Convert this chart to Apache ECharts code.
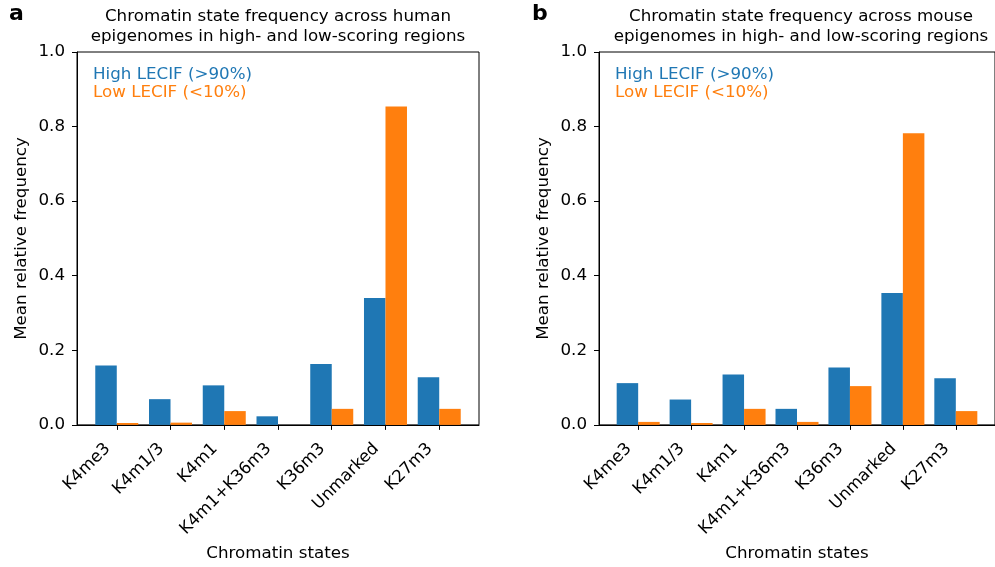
<!DOCTYPE html>
<html>
<head>
<meta charset="utf-8">
<script src="https://cdn.jsdelivr.net/npm/echarts@6/dist/echarts.min.js"></script>
<style>html,body{margin:0;padding:0;background:#fff;overflow:hidden;}#chart{width:995px;height:567px;}</style>
</head>
<body>
<div id="chart"></div>
<script>
const categories = ['K4me3', 'K4m1/3', 'K4m1', 'K4m1+K36m3', 'K36m3', 'Unmarked', 'K27m3'];
const humanHigh = [0.159, 0.069, 0.106, 0.023, 0.163, 0.340, 0.128];
const humanLow  = [0.005, 0.006, 0.037, 0.000, 0.043, 0.854, 0.043];
const mouseHigh = [0.112, 0.068, 0.135, 0.043, 0.154, 0.354, 0.125];
const mouseLow  = [0.008, 0.005, 0.043, 0.008, 0.104, 0.782, 0.037];
const titles = ['Chromatin state frequency across human\nepigenomes in high- and low-scoring regions',
                'Chromatin state frequency across mouse\nepigenomes in high- and low-scoring regions'];
const legendHigh = 'High LECIF (>90%)';
const legendLow = 'Low LECIF (<10%)';
const blue = '#1f77b4', orange = '#ff7f0e';
const FONT = 'DejaVu Sans';
const FS = 16.7;

const pos = categories.map((c, i) => i);
const toPairs = arr => arr.map((v, i) => [i, v]);

function xAxis(gi) {
  return {
    type: 'value', gridIndex: gi, min: -0.74, max: 6.74,
    name: 'Chromatin states', nameLocation: 'middle', nameGap: 117,
    nameTextStyle: {fontFamily: FONT, fontSize: FS, color: '#000'},
    splitLine: {show: false},
    axisLine: {show: true, onZero: false, lineStyle: {color: '#000', width: 1}},
    axisTick: {show: true, length: 5, lineStyle: {color: '#000'}, customValues: pos},
    axisLabel: {
      customValues: pos, rotate: 45, margin: 12, padding: [0, 13, 0, 0],
      fontFamily: FONT, fontSize: FS, color: '#000',
      formatter: v => categories[Math.round(v)]
    }
  };
}
function yAxis(gi) {
  return {
    type: 'value', gridIndex: gi, min: 0, max: 1, interval: 0.2,
    name: 'Mean relative frequency', nameLocation: 'middle', nameGap: 47,
    nameTextStyle: {fontFamily: FONT, fontSize: FS, color: '#000'},
    splitLine: {show: false},
    axisLine: {show: true, onZero: false, lineStyle: {color: '#000', width: 1}},
    axisTick: {show: true, length: 5, lineStyle: {color: '#000'}},
    axisLabel: {margin: 12, fontFamily: FONT, fontSize: FS, color: '#000',
      formatter: v => v.toFixed(1)}
  };
}
function bar(gi, data, color) {
  return {
    type: 'bar', xAxisIndex: gi, yAxisIndex: gi, data: toPairs(data),
    barWidth: 21.5, barGap: '0%', itemStyle: {color: color}, silent: true
  };
}
const tStyle = (size, weight, color) => ({fontFamily: FONT, fontSize: size, fontWeight: weight, color: color, lineHeight: 20});

const chart = echarts.init(document.getElementById('chart'), null, {renderer: 'canvas', width: 995, height: 567});
chart.setOption({
  animation: false,
  backgroundColor: '#fff',
  grid: [
    {left: 77, width: 402, top: 52, height: 376, show: true, borderColor: '#000', borderWidth: 1, containLabel: false},
    {left: 599, width: 402, top: 52, height: 376, show: true, borderColor: '#000', borderWidth: 1, containLabel: false}
  ],
  title: [
    {text: titles[0], left: 278, top: 7, padding: 0, textAlign: 'center', textStyle: tStyle(FS, 'normal', '#000')},
    {text: titles[1], left: 801, top: 7, padding: 0, textAlign: 'center', textStyle: tStyle(FS, 'normal', '#000')},
    {text: 'a', left: 9, top: 4, padding: 0, textStyle: tStyle(22, 'bold', '#000')},
    {text: 'b', left: 532, top: 4, padding: 0, textStyle: tStyle(22, 'bold', '#000')},
    {text: legendHigh, left: 93, top: 65, padding: 0, textStyle: tStyle(FS, 'normal', blue)},
    {text: legendLow, left: 93, top: 83, padding: 0, textStyle: tStyle(FS, 'normal', orange)},
    {text: legendHigh, left: 615, top: 65, padding: 0, textStyle: tStyle(FS, 'normal', blue)},
    {text: legendLow, left: 615, top: 83, padding: 0, textStyle: tStyle(FS, 'normal', orange)}
  ],
  xAxis: [xAxis(0), xAxis(1)],
  yAxis: [yAxis(0), yAxis(1)],
  series: [
    bar(0, humanHigh, blue), bar(0, humanLow, orange),
    bar(1, mouseHigh, blue), bar(1, mouseLow, orange)
  ]
});
</script>
</body>
</html>
